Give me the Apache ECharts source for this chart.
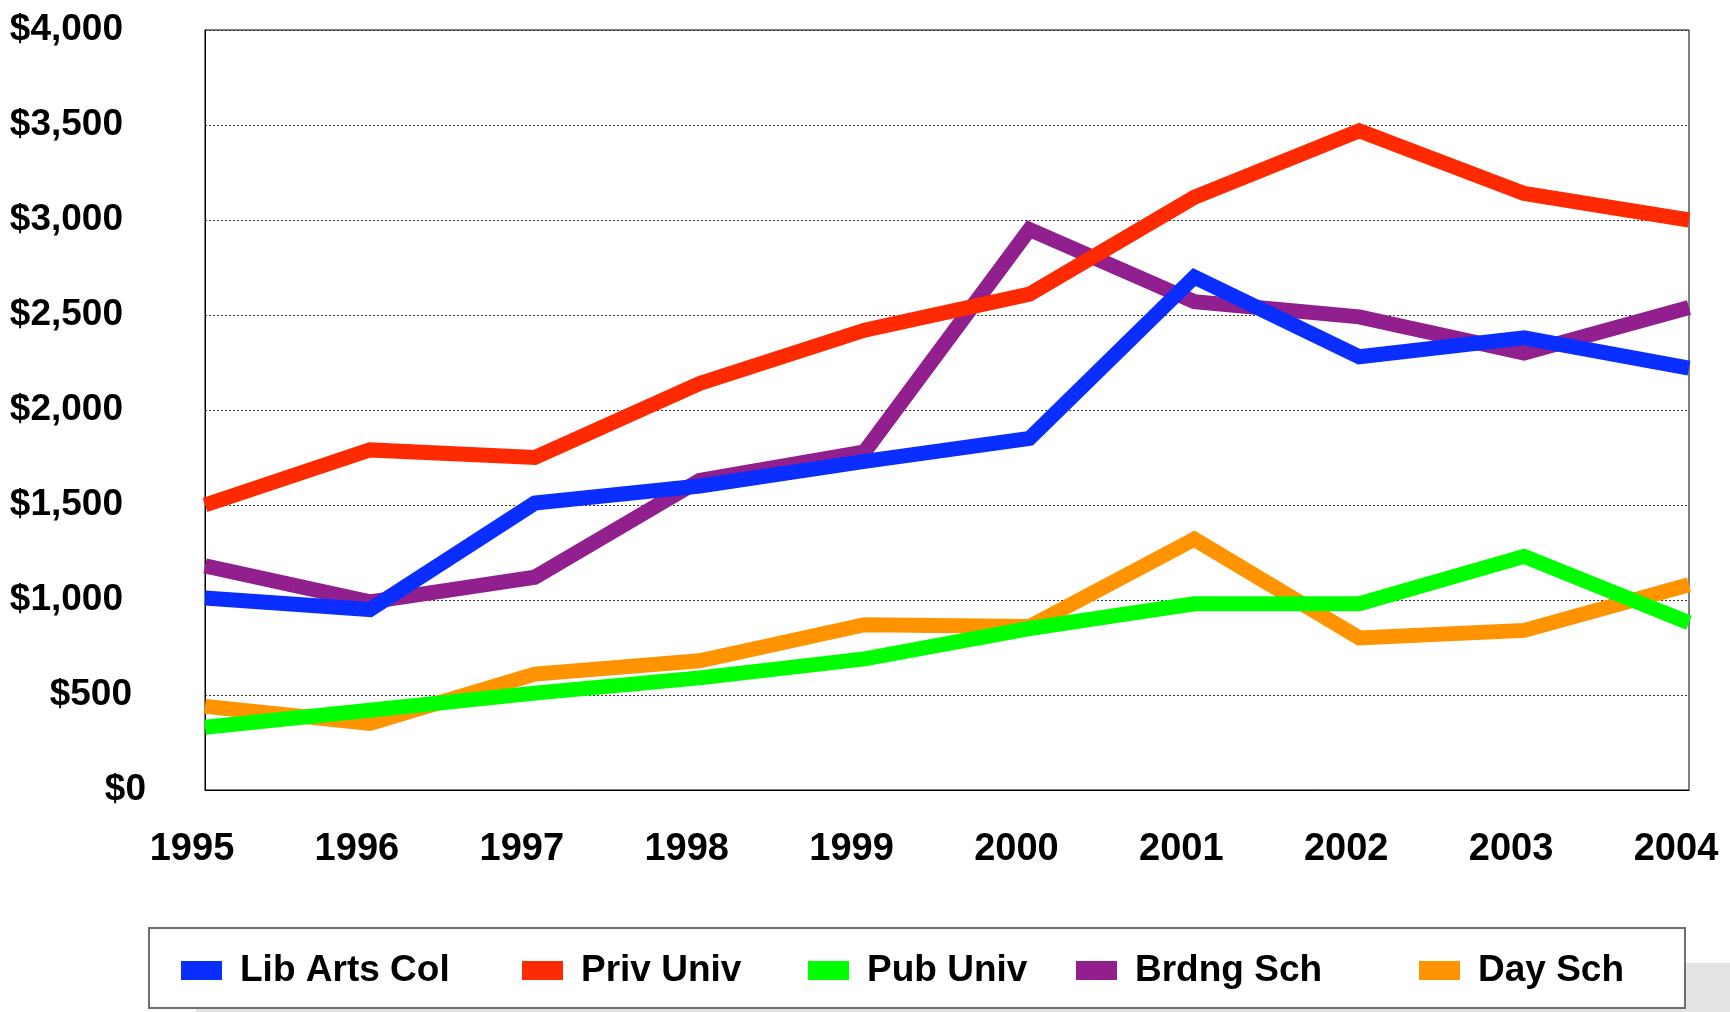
<!DOCTYPE html>
<html>
<head>
<meta charset="utf-8">
<script src="https://cdn.jsdelivr.net/npm/echarts@6/dist/echarts.min.js"></script>
<style>
html,body{margin:0;padding:0;background:#fff;}
#c{width:1730px;height:1012px;}
</style>
</head>
<body>
<div id="c"></div>
<script>
var years = ['1995','1996','1997','1998','1999','2000','2001','2002','2003','2004'];
var libArtsCol = [1010, 950, 1510, 1600, 1730, 1850, 2700, 2280, 2380, 2220];
var privUniv   = [1500, 1790, 1750, 2140, 2420, 2610, 3120, 3470, 3140, 3000];
var pubUniv    = [330, 420, 510, 590, 690, 850, 980, 980, 1230, 880];
var brdngSch   = [1180, 990, 1120, 1630, 1780, 2950, 2570, 2490, 2300, 2540];
var daySch     = [440, 350, 610, 680, 870, 860, 1320, 800, 840, 1080];
var seriesNames = ['Lib Arts Col','Priv Univ','Pub Univ','Brdng Sch','Day Sch'];
var yTicks = [0, 500, 1000, 1500, 2000, 2500, 3000, 3500, 4000];

var FONT = '"Liberation Sans", Arial, sans-serif';
var colors = {
  'Lib Arts Col': '#0a2eff',
  'Priv Univ': '#ff2a00',
  'Pub Univ': '#00ff00',
  'Brdng Sch': '#921f8e',
  'Day Sch': '#ff9400'
};
var dataByName = {
  'Lib Arts Col': libArtsCol,
  'Priv Univ': privUniv,
  'Pub Univ': pubUniv,
  'Brdng Sch': brdngSch,
  'Day Sch': daySch
};
// drawing order (bottom to top)
var drawOrder = ['Day Sch','Brdng Sch','Pub Univ','Lib Arts Col','Priv Univ'];
var legendLeft = [176, 517, 803, 1071, 1414];

var ylabStyle = {fontFamily:FONT, fontWeight:'bold', fontSize:37, color:'#000'};
var chart = echarts.init(document.getElementById('c'), null, {renderer:'canvas'});
var option = {
  animation: false,
  backgroundColor: '#ffffff',
  graphic: [
    {type:'rect', z:-10, shape:{x:196, y:963, width:1534, height:49}, style:{fill:'#e4e4e4'}},
    {type:'rect', z:-5, shape:{x:149, y:928, width:1536, height:80}, style:{fill:'#ffffff', stroke:'#6e6e6e', lineWidth:2}}
  ],
  grid: {left:205, right:41, top:30, bottom:222, show:true, borderColor:'#000', borderWidth:1, backgroundColor:'transparent'},
  legend: seriesNames.map(function(n, i){
    return {
      data:[n], left: legendLeft[i], top: 947, icon:'rect', itemWidth:41, itemHeight:19,
      textStyle:{fontFamily:FONT, fontWeight:'bold', fontSize:37, color:'#000', lineHeight:37, padding:[0,0,0,13]},
      selectedMode:false
    };
  }),
  xAxis: {
    type:'category', data: years, boundaryGap:false,
    axisLine:{show:true, lineStyle:{color:'#000', width:1}},
    axisTick:{show:false},
    axisLabel:{fontFamily:FONT, fontWeight:'bold', fontSize:38, color:'#000', margin:41, interval:0, padding:[0,26,0,0]},
    splitLine:{show:false}
  },
  yAxis: {
    type:'value', min:0, max:4000, interval:500,
    axisLine:{show:true, lineStyle:{color:'#000', width:1}},
    axisTick:{show:false},
    axisLabel:{fontFamily:FONT, fontWeight:'bold', fontSize:37, color:'#000', margin:59,
      formatter:function(v){
        var s = '$' + v.toLocaleString('en-US');
        if (v === 0) return '{z|' + s + '}';
        if (v === 500) return '{h|' + s + '}';
        return '{t|' + s + '}';
      },
      rich:{
        z:Object.assign({}, ylabStyle),
        h:Object.assign({padding:[0,14,0,0]}, ylabStyle),
        t:Object.assign({padding:[0,23,0,0]}, ylabStyle)
      }
    },
    splitLine:{show:true, lineStyle:{color:'#333', type:[2,2], width:1}}
  },
  series: drawOrder.map(function(n){
    return {
      name:n, type:'line', data:dataByName[n], showSymbol:false, symbol:'none',
      lineStyle:{width:15, color:colors[n], join:'miter', cap:'butt'},
      itemStyle:{color:colors[n]}
    };
  })
};
chart.setOption(option);
</script>
</body>
</html>
